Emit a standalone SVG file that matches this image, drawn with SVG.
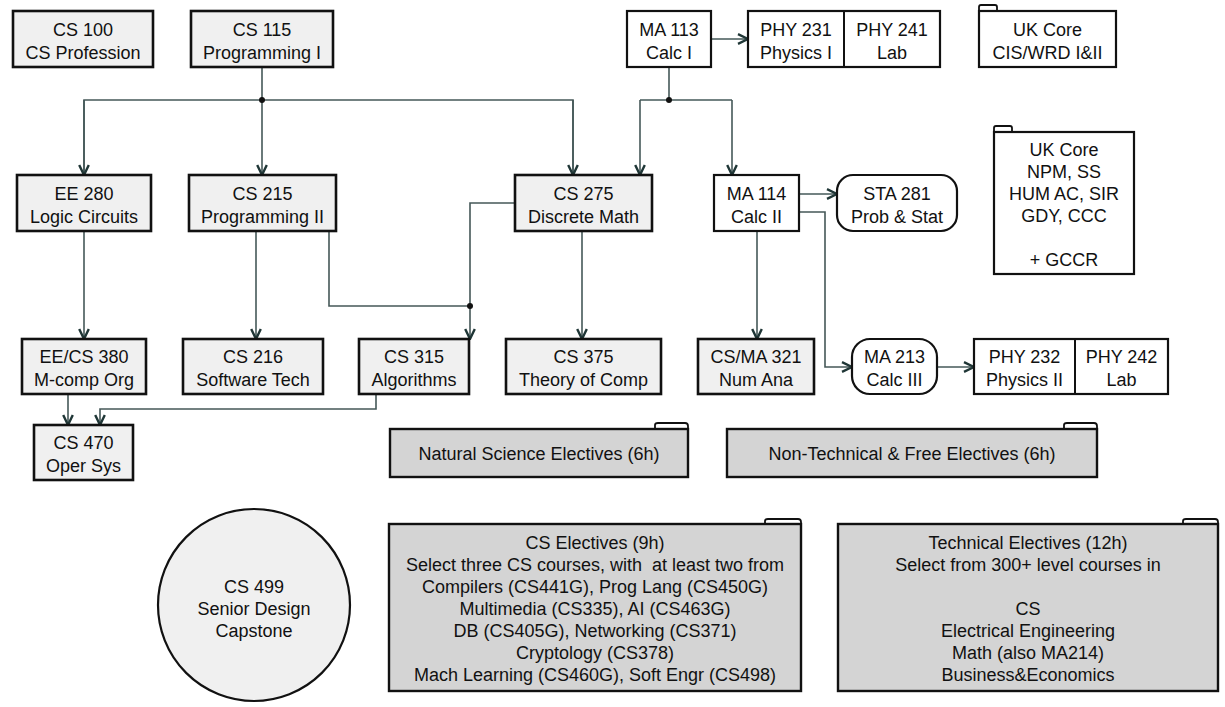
<svg xmlns="http://www.w3.org/2000/svg" width="1225" height="707" viewBox="0 0 1225 707">
<defs>
<marker id="arr" viewBox="0 0 12 12" refX="11" refY="6" markerWidth="12" markerHeight="12" markerUnits="userSpaceOnUse" orient="auto">
<path d="M1,1.2 L11,6 L1,10.8" fill="none" stroke="#1f3636" stroke-width="2.4"/>
</marker>
<style>
text{font-family:"Liberation Sans",Arial,sans-serif;font-size:18px;fill:#111;text-anchor:middle;white-space:pre}
.c{fill:#f0f0f0;stroke:#111;stroke-width:2.6}
.w{fill:#fff;stroke:#111;stroke-width:2.2}
.g{fill:#d4d4d4;stroke:#111;stroke-width:2.4}
.tab{fill:#fff;stroke:#111;stroke-width:1.8}
.ln{fill:none;stroke:#455858;stroke-width:1.6}
.a{marker-end:url(#arr)}
.dot{fill:#111}
</style>
</defs>
<rect width="1225" height="707" fill="#fff"/>
<g id="connectors">
<path class="ln" d="M262,67 V100"/>
<path class="ln" d="M84,175 V100 H573 V175"/>
<path class="ln a" d="M84,100 V175"/>
<path class="ln a" d="M262,100 V175"/>
<path class="ln a" d="M573,100 V175"/>
<circle class="dot" cx="262" cy="100" r="3"/>
<path class="ln" d="M669,67 V100"/>
<path class="ln" d="M640,100 H732"/>
<path class="ln a" d="M640,100 V175"/>
<path class="ln a" d="M732,100 V175"/>
<circle class="dot" cx="669" cy="100" r="3"/>
<path class="ln a" d="M711,39 H748"/>
<path class="ln a" d="M84,231 V339"/>
<path class="ln a" d="M256,231 V339"/>
<path class="ln" d="M329,231 V306 H470"/>
<path class="ln a" d="M515,203 H470 V339"/>
<circle class="dot" cx="470" cy="306" r="3"/>
<path class="ln a" d="M582,231 V339"/>
<path class="ln a" d="M757,231 V339"/>
<path class="ln a" d="M799,194 H837"/>
<path class="ln a" d="M799,212 H825 V367 H852"/>
<path class="ln a" d="M937,367 H974"/>
<path class="ln a" d="M68,394 V425"/>
<path class="ln a" d="M376,394 V409 H100 V425"/>
</g>
<g id="cs100"><rect class="c" x="13" y="11" width="140" height="56"/><text x="83" y="35.5">CS 100</text><text x="83" y="58.5">CS Profession</text></g>
<g id="cs115"><rect class="c" x="191" y="11" width="142" height="56"/><text x="262" y="35.5">CS 115</text><text x="262" y="58.5">Programming I</text></g>
<g id="ma113"><rect class="w" x="627" y="11" width="84" height="56"/><text x="669" y="35.5">MA 113</text><text x="669" y="58.5">Calc I</text></g>
<g id="phy231"><rect class="w" x="748" y="11" width="192" height="56"/><line x1="844" y1="11" x2="844" y2="67" stroke="#111" stroke-width="2"/><text x="796" y="35.5">PHY 231</text><text x="796" y="58.5">Physics I</text><text x="892" y="35.5">PHY 241</text><text x="892" y="58.5">Lab</text></g>
<g id="ukcore1"><path class="tab" d="M979,11 V7 Q979,5 981,5 H995 Q997,5 997,7 V11"/><rect class="w" x="979" y="11" width="137" height="56"/><text x="1047.5" y="35.5">UK Core</text><text x="1047.5" y="58.5">CIS/WRD I&amp;II</text></g>
<g id="ee280"><rect class="c" x="17" y="175" width="134" height="56"/><text x="84" y="199.5">EE 280</text><text x="84" y="222.5">Logic Circuits</text></g>
<g id="cs215"><rect class="c" x="189" y="175" width="147" height="56"/><text x="262.5" y="199.5">CS 215</text><text x="262.5" y="222.5">Programming II</text></g>
<g id="cs275"><rect class="c" x="515" y="175" width="137" height="56"/><text x="583.5" y="199.5">CS 275</text><text x="583.5" y="222.5">Discrete Math</text></g>
<g id="ma114"><rect class="w" x="714" y="175" width="85" height="56"/><text x="756.5" y="199.5">MA 114</text><text x="756.5" y="222.5">Calc II</text></g>
<g id="sta281"><rect class="w" x="837" y="175" width="120" height="56" rx="16"/><text x="897" y="199.5">STA 281</text><text x="897" y="222.5">Prob &amp; Stat</text></g>
<g id="ukcore2"><path class="tab" d="M994,132 V128 Q994,126 996,126 H1010 Q1012,126 1012,128 V132"/><rect class="w" x="994" y="132" width="140" height="142"/><text x="1064" y="155.5">UK Core</text><text x="1064" y="177.5">NPM, SS</text><text x="1064" y="199.5">HUM AC, SIR</text><text x="1064" y="221.5">GDY, CCC</text><text x="1064" y="265.5">+ GCCR</text></g>
<g id="ee380"><rect class="c" x="22" y="339" width="124" height="55"/><text x="84" y="363">EE/CS 380</text><text x="84" y="386">M-comp Org</text></g>
<g id="cs216"><rect class="c" x="183" y="339" width="140" height="55"/><text x="253" y="363">CS 216</text><text x="253" y="386">Software Tech</text></g>
<g id="cs315"><rect class="c" x="359" y="339" width="110" height="55"/><text x="414" y="363">CS 315</text><text x="414" y="386">Algorithms</text></g>
<g id="cs375"><rect class="c" x="506" y="339" width="155" height="55"/><text x="583.5" y="363">CS 375</text><text x="583.5" y="386">Theory of Comp</text></g>
<g id="csma321"><rect class="c" x="698" y="339" width="116" height="55"/><text x="756" y="363">CS/MA 321</text><text x="756" y="386">Num Ana</text></g>
<g id="ma213"><rect class="w" x="852" y="339" width="85" height="55" rx="18"/><text x="894.5" y="363">MA 213</text><text x="894.5" y="386">Calc III</text></g>
<g id="phy232"><rect class="w" x="974" y="339" width="194" height="55"/><line x1="1075" y1="339" x2="1075" y2="394" stroke="#111" stroke-width="2"/><text x="1024.5" y="363">PHY 232</text><text x="1024.5" y="386">Physics II</text><text x="1121.5" y="363">PHY 242</text><text x="1121.5" y="386">Lab</text></g>
<g id="cs470"><rect class="c" x="34" y="425" width="99" height="55"/><text x="83.5" y="449">CS 470</text><text x="83.5" y="472">Oper Sys</text></g>
<g id="natsci"><path class="tab" d="M655,429 V425 Q655,423 658,423 H685 Q688,423 688,426 V429"/><rect class="g" x="390" y="429" width="298" height="48"/><text x="539" y="460">Natural Science Electives (6h)</text></g>
<g id="nontech"><path class="tab" d="M1064,429 V425 Q1064,423 1067,423 H1094 Q1097,423 1097,426 V429"/><rect class="g" x="727" y="429" width="370" height="48"/><text x="912" y="460">Non-Technical &amp; Free Electives (6h)</text></g>
<g id="cs499"><circle cx="254" cy="605" r="96" fill="#f0f0f0" stroke="#111" stroke-width="2.2"/><text x="254" y="593">CS 499</text><text x="254" y="615">Senior Design</text><text x="254" y="637">Capstone</text></g>
<g id="cselectives"><path class="tab" d="M765,524 V521 Q765,519 768,519 H798 Q801,519 801,522 V524"/><rect class="g" x="389" y="524" width="412" height="167"/><text x="595" y="549">CS Electives (9h)</text><text x="595" y="571">Select three CS courses, with  at least two from</text><text x="595" y="593">Compilers (CS441G), Prog Lang (CS450G)</text><text x="595" y="615">Multimedia (CS335), AI (CS463G)</text><text x="595" y="637">DB (CS405G), Networking (CS371)</text><text x="595" y="659">Cryptology (CS378)</text><text x="595" y="681">Mach Learning (CS460G), Soft Engr (CS498)</text></g>
<g id="techelectives"><path class="tab" d="M1183,524 V521 Q1183,519 1186,519 H1215 Q1218,519 1218,522 V524"/><rect class="g" x="838" y="524" width="380" height="167"/><text x="1028" y="549">Technical Electives (12h)</text><text x="1028" y="571">Select from 300+ level courses in</text><text x="1028" y="615">CS</text><text x="1028" y="637">Electrical Engineering</text><text x="1028" y="659">Math (also MA214)</text><text x="1028" y="681">Business&amp;Economics</text></g>
</svg>
